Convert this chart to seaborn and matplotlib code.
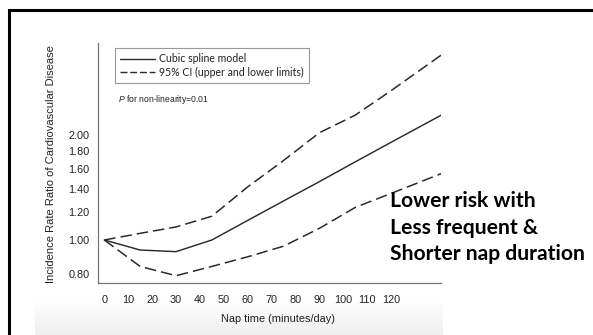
import numpy as np
import pandas as pd
import matplotlib
matplotlib.use("Agg")
import matplotlib.pyplot as plt
from matplotlib.lines import Line2D
from matplotlib.patches import Rectangle
import seaborn as sns

# ---- data ----
minutes = [0, 15, 30, 45, 60, 75, 90, 105, 120, 141]
irr_spline = [1.00, 0.936, 0.926, 1.00, 1.138, 1.294, 1.47, 1.675, 1.906, 2.28]
irr_upper = [1.00, 1.045, 1.09, 1.17, 1.42, 1.69, 2.03, 2.28, 2.68, 3.39]
irr_lower = [1.00, 0.84, 0.79, 0.84, 0.895, 0.96, 1.08, 1.24, 1.36, 1.55]
xtick_vals = [0, 10, 20, 30, 40, 50, 60, 70, 80, 90, 100, 110, 120]
ytick_vals = [0.80, 1.00, 1.20, 1.40, 1.60, 1.80, 2.00]
ytick_labels = ["0.80", "1.00", "1.20", "1.40", "1.60", "1.80", "2.00"]
legend_labels = ["Cubic spline model", "95% CI (upper and lower limits)"]
p_text = "for non-linearity=0.01"
annotation = "Lower risk with\nLess frequent &\nShorter nap duration"
xlabel = "Nap time (minutes/day)"
ylabel = "Incidence Rate Ratio of Cardiovascular Disease"

sns.set_theme(style="white")
plt.rcParams["font.family"] = ["Liberation Sans", "DejaVu Sans"]
plt.rcParams["mathtext.fontset"] = "custom"
plt.rcParams["mathtext.it"] = "Liberation Sans:italic"
plt.rcParams["mathtext.rm"] = "Liberation Sans"

W, H = 593, 335
fig = plt.figure(figsize=(W / 100, H / 100), dpi=100)
fig.patch.set_facecolor("white")

# bottom light-grey band
band = fig.add_axes([35 / W, 0, (443 - 35) / W, 32 / H])
grad = np.linspace(0, 1, 64).reshape(-1, 1)
band.imshow(grad, aspect="auto", cmap=matplotlib.colors.LinearSegmentedColormap.from_list(
    "g", ["#fdfdfd", "#efefef"]), extent=[0, 1, 1, 0])
band.set_axis_off()

# frame (left + top)
fig.add_artist(Rectangle((9 / W, -0.1), 1.2, (H - 10) / H + 0.1, transform=fig.transFigure,
                         fill=False, edgecolor="black", lw=2.2))

x_left, x_right = 97.7, 441
y_top, y_bot = 43, 283
ax = fig.add_axes([x_left / W, (H - y_bot) / H, (x_right - x_left) / W, (y_bot - y_top) / H])
ax.set_facecolor("none")

df = pd.DataFrame({"minutes": minutes, "spline": irr_spline,
                   "upper": irr_upper, "lower": irr_lower})
lc = "#2b2b2b"
sns.lineplot(data=df, x="minutes", y="spline", ax=ax, color=lc, lw=1.05, legend=False)
sns.lineplot(data=df, x="minutes", y="upper", ax=ax, color=lc, lw=1.1, legend=False,
             linestyle=(0, (7.5, 3.3)))
sns.lineplot(data=df, x="minutes", y="lower", ax=ax, color=lc, lw=1.1, legend=False,
             linestyle=(0, (7.5, 3.3)))

ax.set_yscale("log")
px_per_min = 2.39
x0 = 104.3
ax.set_xlim((x_left - x0) / px_per_min, (x_right - x0) / px_per_min)
k = 151.5
ax.set_ylim(np.exp((240 - y_bot) / k), np.exp((240 - y_top) / k))
ax.set_xticks(xtick_vals)
ax.set_xticklabels([str(v) for v in xtick_vals])
ax.set_yticks(ytick_vals)
ax.set_yticklabels(ytick_labels)
ax.yaxis.set_minor_locator(matplotlib.ticker.NullLocator())
for s in ["top", "right"]:
    ax.spines[s].set_visible(False)
for s in ["left", "bottom"]:
    ax.spines[s].set_color("#777777")
    ax.spines[s].set_linewidth(0.9)
ax.tick_params(axis="both", which="major", direction="out", length=3.5, width=0.8,
               color="#777777", labelsize=7.8, labelcolor="#222222", pad=2.5)
ax.tick_params(axis="x", pad=5)
ax.set_xlabel("")
ax.set_ylabel("")

fig.text(278 / W, 1 - 319 / H, xlabel, ha="center", va="center", fontsize=7.9, color="#222222")
fig.text(51 / W, 1 - 164 / H, ylabel, ha="center", va="center", rotation=90, fontsize=8,
         color="#222222")

# legend
handles = [Line2D([], [], color=lc, lw=1.0),
           Line2D([], [], color=lc, lw=1.0, linestyle=(0, (5, 2)))]
leg = ax.legend(handles, legend_labels, loc="upper left",
                bbox_to_anchor=(115 / W, 1 - 48 / H), bbox_transform=fig.transFigure,
                frameon=True, fancybox=False, framealpha=1, edgecolor="#999999",
                prop={"family": "Lato", "size": 7.6}, handlelength=3.3, handletextpad=0.35,
                borderpad=0.5, labelspacing=0.25, borderaxespad=0)
leg.get_frame().set_linewidth(0.8)
for t in leg.get_texts():
    t.set_color("#222222")

fig.text(118 / W, 1 - 99 / H, r"$P$ " + p_text, ha="left", va="center", fontsize=6.2,
         color="#222222")

fig.text(390 / W, 1 - 191 / H, annotation, ha="left", va="top", fontsize=15.2,
         fontweight="bold", family="Lato", color="black", linespacing=1.42)

fig.savefig("out.png", dpi=100)
